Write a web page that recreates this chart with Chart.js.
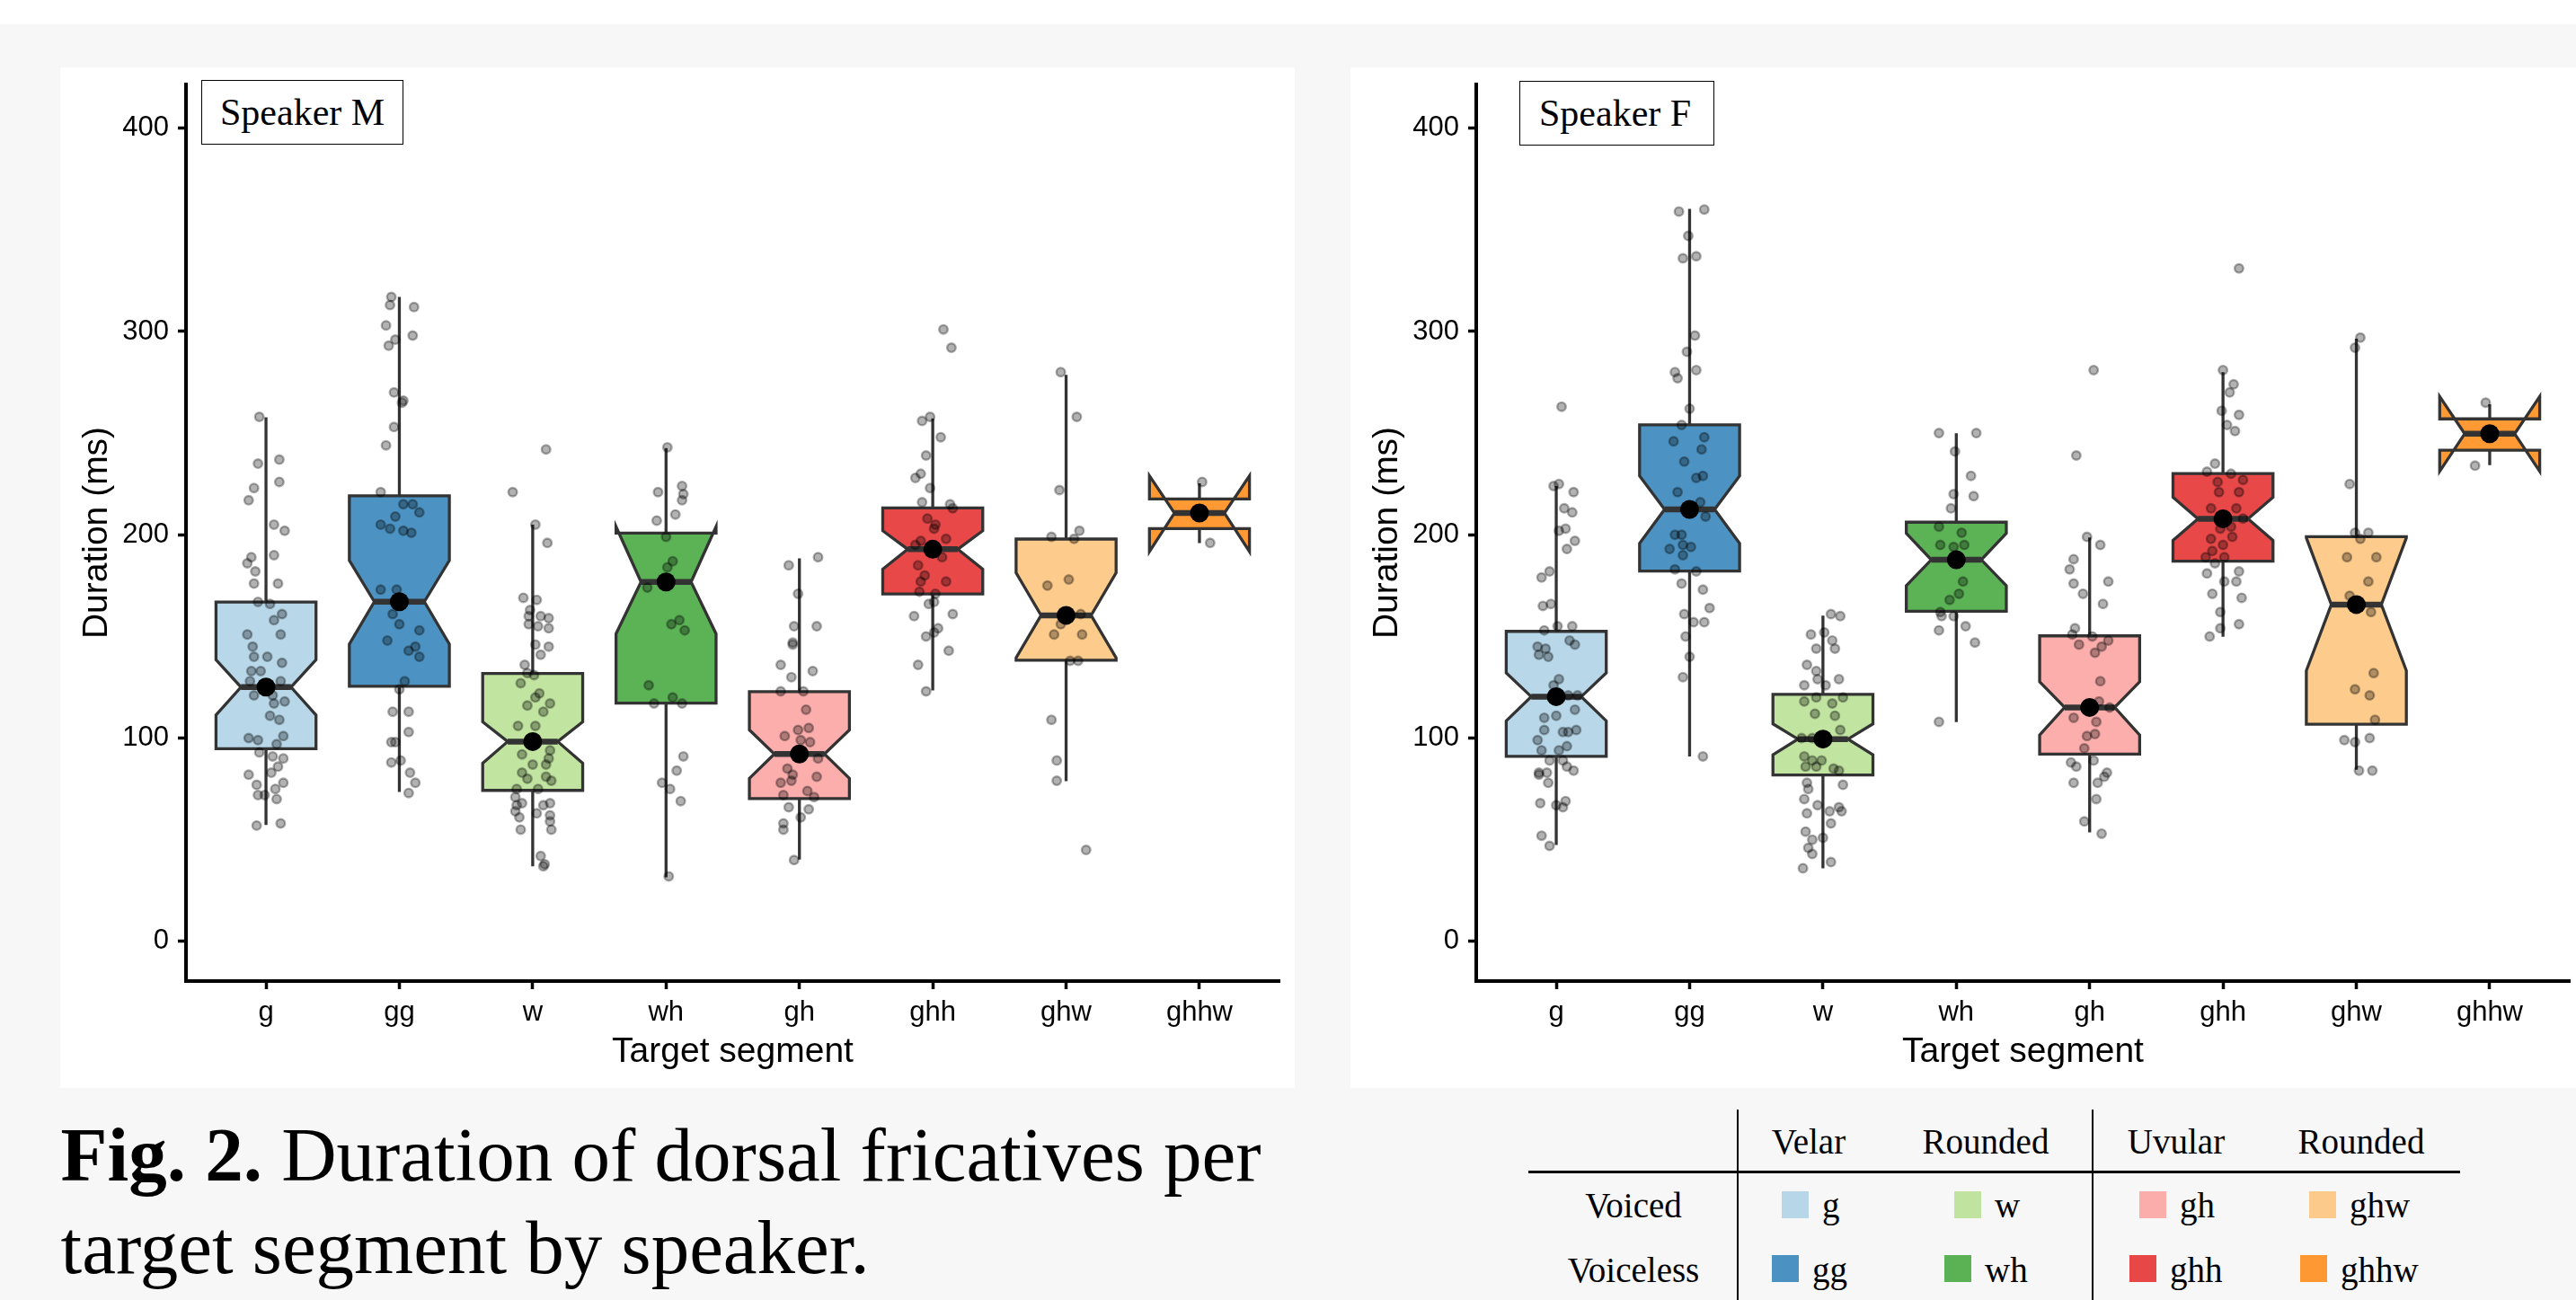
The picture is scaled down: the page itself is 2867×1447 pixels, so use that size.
<!DOCTYPE html>
<html>
<head>
<meta charset="utf-8">
<script src="https://cdn.jsdelivr.net/npm/chart.js@4.4.1/dist/chart.umd.min.js"></script>
<style>
  body { margin: 0; width: 2867px; height: 1447px; background: #f7f7f7; position: relative; overflow: hidden; }
  .abs { position: absolute; }
  .panel { position: absolute; background: #fff; }
  .serif { font-family: 'Liberation Serif', 'Times New Roman', serif; color: #000; white-space: nowrap; }
  .spk { position: absolute; box-sizing: border-box; border: 1.5px solid #000; background: #fff;
         font-family: 'Liberation Serif', serif; font-size: 42px; line-height: 67px; padding-top: 2px; }
  .lg { position: absolute; font-family: 'Liberation Serif', serif; font-size: 39px; line-height: 1; white-space: nowrap; }
</style>
</head>
<body>
<div class="abs" style="left:0;top:0;width:2867px;height:27px;background:#fff"></div>
<div class="panel" style="left:67px;top:75px;width:1374px;height:1136px"><canvas id="chartM" width="1374" height="1136"></canvas></div>
<div class="panel" style="left:1503px;top:75px;width:1364px;height:1136px"><canvas id="chartF" width="1364" height="1136"></canvas></div>
<div class="spk" style="left:224px;top:89px;width:225px;height:72px;padding-left:20px">Speaker M</div>
<div class="spk" style="left:1691px;top:90px;width:217px;height:72px;padding-left:21px">Speaker F</div>

<div class="abs serif" style="left:67.6px;top:1234px;font-size:85px;line-height:102.7px">
  <b>Fig. 2.</b> Duration of dorsal fricatives per<br>target segment by speaker.
</div>

<div id="legend"></div>

<script>
// --- categories and ticks ---
const segments = ['g', 'gg', 'w', 'wh', 'gh', 'ghh', 'ghw', 'ghhw'];
const yTicks = [0, 100, 200, 300, 400];
const fillColors = ['#a6cee3', '#1f78b4', '#b2df8a', '#33a02c', '#fb9a99', '#e31a1c', '#fdbf6f', '#ff7f00'];

// --- Speaker M box stats (ms), one value per segment ---
const mLow     = [57.3, 73.5, 37.0, 31.5, 40.3, 123.5, 78.8, 195.9];
const mQ1      = [94.8, 125.5, 74.3, 117.2, 70.3, 170.9, 138.3, 203.0];
const mNotchLo = [111.3, 146.2, 87.7, 151.3, 80.2, 183.1, 139.5, 191.8];
const mMedian  = [125.1, 167.1, 98.3, 176.8, 92.2, 192.9, 160.4, 210.7];
const mNotchHi = [138.5, 187.4, 108.0, 204.0, 104.0, 202.0, 181.3, 229.0];
const mQ3      = [166.9, 219.2, 131.8, 200.8, 122.8, 213.2, 197.9, 217.6];
const mHigh    = [257.8, 317.0, 205.0, 242.6, 188.4, 257.2, 278.7, 225.3];

// --- Speaker F box stats (ms) ---
const fLow     = [47.4, 91.0, 36.0, 107.9, 53.6, 149.9, 84.4, 234.3];
const fQ1      = [91.0, 182.2, 81.9, 162.4, 92.1, 187.0, 106.8, 241.6];
const fNotchLo = [108.5, 195.8, 91.8, 175.0, 101.5, 197.2, 133.2, 231.2];
const fMedian  = [120.4, 212.5, 99.5, 187.7, 115.1, 207.9, 165.7, 249.7];
const fNotchHi = [132.1, 229.0, 107.0, 200.7, 127.7, 218.5, 198.5, 268.0];
const fQ3      = [152.5, 254.1, 121.5, 206.2, 150.3, 230.1, 199.1, 257.0];
const fHigh    = [224.0, 360.3, 160.2, 249.9, 198.7, 280.0, 296.5, 264.2];

// --- jittered observations: [horizontal jitter, duration ms] ---
const ptsM_g = [[-0.05,258],[-0.06,235],[0.10,237],[0.10,226],[-0.09,223],[-0.13,217],[0.06,205],[0.14,202],[0.06,190],[-0.11,189],[-0.14,186],[-0.08,182],[-0.09,176],[0.09,176],[-0.06,167],[0.03,166],[0.12,161],[0.06,158],[-0.14,151],[0.11,151],[-0.10,145],[-0.09,140],[0.01,140],[0.12,137],[-0.11,133],[-0.04,133],[0.11,128],[-0.12,128],[-0.09,121],[0.05,121],[0.14,118],[0.06,117],[0.03,111],[0.10,109],[-0.13,100],[-0.06,99],[0.13,101],[0.08,97],[-0.05,93],[0.05,91],[0.13,90],[0.09,86],[0.04,83],[-0.13,82],[0.13,78],[-0.07,77],[0.07,75],[-0.06,72],[-0.01,72],[0.08,70],[-0.07,57],[0.11,58]];
const ptsM_gg = [[-0.06,317],[-0.07,313],[0.11,312],[-0.10,303],[0.10,298],[-0.03,296],[-0.08,293],[-0.04,270],[0.03,266],[0.02,265],[-0.04,253],[-0.10,244],[-0.14,221],[0.03,215],[0.10,215],[0.15,211],[-0.03,209],[-0.14,205],[-0.07,203],[0.03,202],[0.09,201],[-0.14,173],[-0.02,173],[-0.05,161],[0.00,156],[0.15,153],[-0.09,148],[0.12,145],[0.07,143],[0.15,140],[0.04,128],[0.00,124],[-0.05,113],[0.07,113],[0.07,103],[-0.06,98],[-0.03,98],[-0.06,88],[0.01,89],[0.08,83],[0.12,78],[0.07,73]];
const ptsM_w = [[0.10,242],[-0.15,221],[0.02,205],[0.11,196],[-0.07,169],[0.03,168],[-0.02,163],[-0.03,160],[0.06,160],[0.12,159],[-0.03,156],[0.04,155],[0.12,154],[0.02,146],[0.12,145],[0.06,141],[-0.06,136],[-0.04,132],[0.01,131],[-0.09,127],[0.05,122],[0.02,120],[-0.04,116],[0.13,117],[0.08,113],[-0.11,106],[0.02,106],[-0.08,92],[0.13,94],[0.12,90],[0.00,87],[0.10,87],[-0.08,83],[-0.04,80],[0.14,79],[0.10,81],[-0.12,75],[0.04,75],[-0.13,71],[-0.12,67],[-0.08,68],[0.08,67],[0.13,68],[-0.13,64],[0.03,63],[0.13,62],[-0.10,61],[0.13,59],[-0.09,55],[0.14,55],[0.06,42],[0.09,38],[0.08,37]];
const ptsM_wh = [[0.01,243],[-0.06,221],[0.12,224],[0.13,220],[0.12,217],[0.07,210],[-0.07,207],[0.00,199],[0.05,187],[0.01,184],[-0.14,174],[0.04,156],[0.10,158],[0.14,153],[-0.13,126],[0.05,120],[-0.09,117],[0.12,117],[0.13,91],[0.08,84],[-0.03,78],[0.03,75],[0.11,69],[0.02,32]];
const ptsM_gh = [[-0.08,185],[0.14,189],[-0.01,171],[-0.04,155],[0.13,155],[-0.05,147],[-0.05,146],[-0.14,136],[0.10,133],[-0.06,130],[-0.14,123],[0.03,123],[0.05,114],[-0.01,104],[0.07,105],[-0.11,101],[0.01,99],[0.08,98],[-0.09,85],[-0.05,82],[0.14,90],[0.13,81],[-0.14,78],[-0.06,79],[0.06,74],[-0.12,72],[0.11,71],[-0.08,66],[0.07,65],[0.01,61],[-0.12,58],[-0.12,55],[-0.04,40]];
const ptsM_ghh = [[0.08,301],[0.14,292],[-0.08,256],[-0.02,258],[0.06,248],[-0.05,239],[-0.09,230],[-0.13,228],[-0.02,223],[-0.08,216],[0.13,215],[0.15,213],[-0.04,208],[0.02,205],[0.01,203],[0.10,198],[-0.09,197],[-0.13,195],[0.07,189],[-0.11,185],[-0.06,180],[0.10,177],[-0.09,177],[-0.10,172],[0.02,171],[-0.03,166],[0.01,167],[-0.14,160],[0.15,161],[0.04,154],[0.01,152],[-0.05,150],[0.12,143],[-0.11,136],[-0.05,123]];
const ptsM_ghw = [[-0.04,280],[0.08,258],[-0.05,222],[0.10,202],[-0.11,199],[0.06,198],[-0.14,175],[0.02,178],[-0.04,156],[0.11,161],[-0.09,151],[0.12,151],[0.03,138],[0.09,138],[-0.11,109],[-0.07,89],[-0.07,79],[0.15,45]];
const ptsM_ghhw = [[0.02,226],[0.08,196]];

const ptsF_g = [[0.04,263],[-0.02,224],[0.02,225],[0.13,221],[0.06,213],[0.12,211],[0.02,202],[0.07,203],[0.08,193],[0.14,197],[-0.11,179],[-0.05,182],[-0.10,165],[-0.04,166],[-0.09,153],[0.01,155],[0.12,155],[0.10,148],[0.14,146],[-0.14,145],[-0.08,144],[-0.13,141],[-0.06,140],[0.02,129],[-0.02,126],[0.16,121],[0.09,121],[-0.09,110],[0.00,111],[0.14,114],[-0.09,104],[0.05,103],[0.09,103],[0.15,104],[-0.14,99],[0.08,96],[-0.11,94],[0.02,94],[-0.05,89],[0.05,89],[0.08,86],[0.13,84],[-0.13,83],[-0.07,83],[-0.13,82],[-0.06,78],[-0.12,68],[0.07,69],[0.00,67],[0.05,66],[-0.11,52],[-0.05,47]];
const ptsF_gg = [[-0.08,359],[0.11,360],[-0.01,347],[-0.05,336],[0.05,337],[0.04,298],[-0.02,290],[-0.11,280],[-0.09,277],[0.05,281],[0.00,262],[-0.06,254],[-0.12,246],[0.11,248],[0.09,242],[-0.04,236],[0.05,228],[0.10,229],[-0.09,221],[0.08,216],[0.12,209],[-0.11,200],[-0.06,200],[-0.15,193],[-0.05,195],[0.01,194],[-0.05,190],[-0.11,183],[0.05,182],[-0.06,176],[0.10,173],[0.15,164],[-0.04,161],[0.03,157],[0.11,157],[-0.03,150],[0.00,140],[-0.05,130],[0.10,91]];
const ptsF_w = [[0.06,161],[0.13,160],[-0.09,151],[0.01,152],[0.07,148],[0.09,144],[-0.05,144],[-0.12,136],[-0.05,133],[-0.04,129],[0.12,129],[-0.14,126],[0.02,126],[0.15,120],[-0.14,118],[-0.05,120],[0.07,117],[-0.06,112],[0.09,111],[0.13,104],[-0.16,100],[-0.08,100],[-0.14,91],[-0.08,89],[-0.01,89],[-0.13,86],[-0.05,86],[0.08,85],[0.12,84],[-0.12,78],[-0.11,75],[0.15,77],[-0.14,70],[-0.04,67],[0.12,66],[0.14,64],[-0.12,63],[0.05,64],[0.06,58],[-0.13,54],[0.00,51],[-0.08,50],[-0.11,46],[-0.08,43],[0.06,39],[-0.15,36]];
const ptsF_wh = [[-0.13,250],[0.15,250],[-0.01,241],[0.11,229],[-0.02,220],[0.13,219],[-0.04,213],[-0.13,204],[0.04,201],[-0.12,195],[-0.02,194],[0.06,195],[0.05,177],[0.02,171],[-0.05,168],[-0.12,162],[-0.02,160],[-0.11,160],[0.07,155],[-0.13,153],[0.14,147],[-0.13,108]];
const ptsF_gh = [[0.03,281],[-0.10,239],[-0.02,199],[0.08,195],[-0.12,188],[-0.15,183],[-0.12,176],[0.14,177],[-0.05,171],[0.10,166],[-0.11,154],[-0.13,151],[0.02,150],[-0.08,146],[0.09,145],[0.14,148],[0.04,142],[0.08,128],[0.07,118],[0.15,115],[-0.12,110],[0.05,108],[0.04,102],[-0.02,101],[-0.04,95],[-0.14,88],[-0.10,86],[0.03,89],[0.13,83],[0.11,81],[-0.12,78],[0.06,78],[0.05,70],[-0.04,59],[0.09,53]];
const ptsF_ghh = [[0.12,331],[0.00,281],[0.08,274],[0.05,270],[-0.01,261],[0.12,259],[0.03,254],[0.09,251],[-0.06,235],[-0.12,231],[0.06,230],[0.15,227],[-0.04,226],[0.12,221],[-0.03,221],[-0.09,213],[0.10,213],[0.15,208],[-0.02,203],[0.06,204],[-0.09,198],[0.00,195],[0.07,199],[-0.08,192],[-0.13,189],[0.01,189],[-0.06,186],[-0.12,181],[0.12,182],[0.01,177],[0.10,177],[-0.08,171],[0.14,169],[-0.02,162],[0.12,156],[-0.02,154],[-0.10,150]];
const ptsF_ghw = [[0.03,297],[-0.01,292],[-0.05,225],[-0.01,201],[0.09,201],[0.03,198],[-0.07,189],[0.15,189],[0.09,177],[-0.05,170],[0.11,162],[0.13,132],[-0.01,124],[0.10,121],[0.14,109],[-0.09,99],[-0.01,98],[0.10,100],[0.02,84],[0.12,84]];
const ptsF_ghhw = [[-0.03,265],[-0.11,234]];

const pointsM = [ptsM_g, ptsM_gg, ptsM_w, ptsM_wh, ptsM_gh, ptsM_ghh, ptsM_ghw, ptsM_ghhw];
const pointsF = [ptsF_g, ptsF_gg, ptsF_w, ptsF_wh, ptsF_gh, ptsF_ghh, ptsF_ghw, ptsF_ghhw];

// --- legend table rows ---
const legendHeads = ['Velar', 'Rounded', 'Uvular', 'Rounded'];
const legendRows = ['Voiced', 'Voiceless'];
const voicedSegs = ['g', 'w', 'gh', 'ghw'];
const voicelessSegs = ['gg', 'wh', 'ghh', 'ghhw'];

const BOX_HALF = 0.375;
const NOTCH_IN = 0.1875;
const EDGE = '#333333';

function notchedBoxes(st) {
  return {
    id: 'notchedBoxes',
    beforeDatasetsDraw(chart) {
      const { ctx, scales: { x, y } } = chart;
      ctx.save();
      ctx.lineJoin = 'miter';
      segments.forEach((seg, i) => {
        const xc = x.getPixelForValue(i);
        const x0 = x.getPixelForValue(i - BOX_HALF), x1 = x.getPixelForValue(i + BOX_HALF);
        const n0 = x.getPixelForValue(i - BOX_HALF + NOTCH_IN), n1 = x.getPixelForValue(i + BOX_HALF - NOTCH_IN);
        const py = v => y.getPixelForValue(v);

        // whiskers
        ctx.strokeStyle = EDGE;
        ctx.lineWidth = 3.3;
        ctx.beginPath();
        ctx.moveTo(xc, py(st.q3[i])); ctx.lineTo(xc, py(st.high[i]));
        ctx.moveTo(xc, py(st.q1[i])); ctx.lineTo(xc, py(st.low[i]));
        ctx.stroke();

        // notched box (same vertex order as ggplot)
        ctx.beginPath();
        ctx.moveTo(x0, py(st.q3[i]));
        ctx.lineTo(x0, py(st.nhi[i]));
        ctx.lineTo(n0, py(st.med[i]));
        ctx.lineTo(x0, py(st.nlo[i]));
        ctx.lineTo(x0, py(st.q1[i]));
        ctx.lineTo(x1, py(st.q1[i]));
        ctx.lineTo(x1, py(st.nlo[i]));
        ctx.lineTo(n1, py(st.med[i]));
        ctx.lineTo(x1, py(st.nhi[i]));
        ctx.lineTo(x1, py(st.q3[i]));
        ctx.closePath();
        ctx.fillStyle = fillColors[i] + 'cc';
        ctx.fill();
        ctx.stroke();

        // median bar
        ctx.lineWidth = 6.5;
        ctx.beginPath();
        ctx.moveTo(n0, py(st.med[i])); ctx.lineTo(n1, py(st.med[i]));
        ctx.stroke();
      });
      ctx.restore();
    }
  };
}

const axisFont = { family: "'Liberation Sans', Arial, sans-serif", size: 31 };
const titleFont = { family: "'Liberation Sans', Arial, sans-serif", size: 39 };

function makeChart(id, st, pts, rightPad) {
  const jitter = [];
  pts.forEach((list, i) => list.forEach(p => jitter.push({ x: i + p[0], y: p[1] })));
  const medians = st.med.map((v, i) => ({ x: i, y: v }));
  const gridCfg = { drawOnChartArea: false, drawTicks: true, tickLength: 9, tickWidth: 3.5, tickColor: '#000' };
  const borderCfg = { display: true, color: '#000', width: 4 };

  return new Chart(document.getElementById(id), {
    type: 'scatter',
    data: {
      datasets: [
        { data: medians, pointRadius: 10.5, pointBackgroundColor: '#000', pointBorderWidth: 0 },
        { data: jitter, pointRadius: 4.8, pointBackgroundColor: 'rgba(0,0,0,0.3)',
          pointBorderColor: 'rgba(0,0,0,0.32)', pointBorderWidth: 2.4 }
      ]
    },
    options: {
      responsive: false,
      animation: false,
      layout: { autoPadding: false, padding: { top: 19, right: rightPad, left: 0, bottom: 0 } },
      plugins: { legend: { display: false }, tooltip: { enabled: false } },
      scales: {
        x: {
          type: 'linear', min: -0.6, max: 7.6,
          afterBuildTicks: sc => { sc.ticks = segments.map((s, i) => ({ value: i })); },
          afterFit: sc => { sc.height = 119; sc.paddingLeft = 0; sc.paddingRight = 0; },
          ticks: { callback: v => segments[v], font: axisFont, color: '#000', padding: 8, maxRotation: 0, autoSkip: false },
          grid: gridCfg, border: borderCfg,
          title: { display: true, text: 'Target segment', font: titleFont, color: '#000', padding: { top: 0, bottom: 16 } }
        },
        y: {
          min: -19.5, max: 421.5,
          afterBuildTicks: sc => { sc.ticks = yTicks.map(v => ({ value: v })); },
          afterFit: sc => { sc.width = 140; sc.paddingTop = 0; sc.paddingBottom = 0; },
          ticks: { font: axisFont, color: '#000', padding: 10 },
          grid: gridCfg, border: borderCfg,
          title: { display: true, text: 'Duration (ms)', font: titleFont, color: '#000', padding: { top: 18, bottom: 0 } }
        }
      }
    },
    plugins: [notchedBoxes(st)]
  });
}

makeChart('chartM', { low: mLow, q1: mQ1, nlo: mNotchLo, med: mMedian, nhi: mNotchHi, q3: mQ3, high: mHigh }, pointsM, 17);
makeChart('chartF', { low: fLow, q1: fQ1, nlo: fNotchLo, med: fMedian, nhi: fNotchHi, q3: fQ3, high: fHigh }, pointsF, 7);

// --- legend table (HTML) ---
const legend = document.getElementById('legend');
function addText(text, x, baseline, center) {
  const el = document.createElement('div');
  el.className = 'lg';
  el.textContent = text;
  el.style.left = x + 'px';
  el.style.top = (baseline - 0.8375 * 39) + 'px';
  if (center) el.style.transform = 'translateX(-50%)';
  legend.appendChild(el);
}
function addRect(x, y, w, h, color) {
  const el = document.createElement('div');
  el.className = 'abs';
  Object.assign(el.style, { left: x + 'px', top: y + 'px', width: w + 'px', height: h + 'px', background: color });
  legend.appendChild(el);
}
const headX = [2013, 2210, 2422, 2628];
legendHeads.forEach((h, k) => addText(h, headX[k], 1284, true));
addText(legendRows[0], 1818, 1355, true);
addText(legendRows[1], 1818, 1427, true);
const voicedSwX = [1983, 2175, 2381, 2570];
const voicelessSwX = [1972, 2164, 2370, 2560];
voicedSegs.forEach((s, k) => {
  addRect(voicedSwX[k], 1326, 30, 30, fillColors[segments.indexOf(s)] + 'cc');
  addText(s, voicedSwX[k] + 45, 1355, false);
});
voicelessSegs.forEach((s, k) => {
  addRect(voicelessSwX[k], 1397, 30, 30, fillColors[segments.indexOf(s)] + 'cc');
  addText(s, voicelessSwX[k] + 45, 1427, false);
});
addRect(1701, 1303, 1037, 3, '#000');
addRect(1933, 1235, 1.6, 212, '#000');
addRect(2328, 1235, 1.6, 212, '#000');
</script>
</body>
</html>
